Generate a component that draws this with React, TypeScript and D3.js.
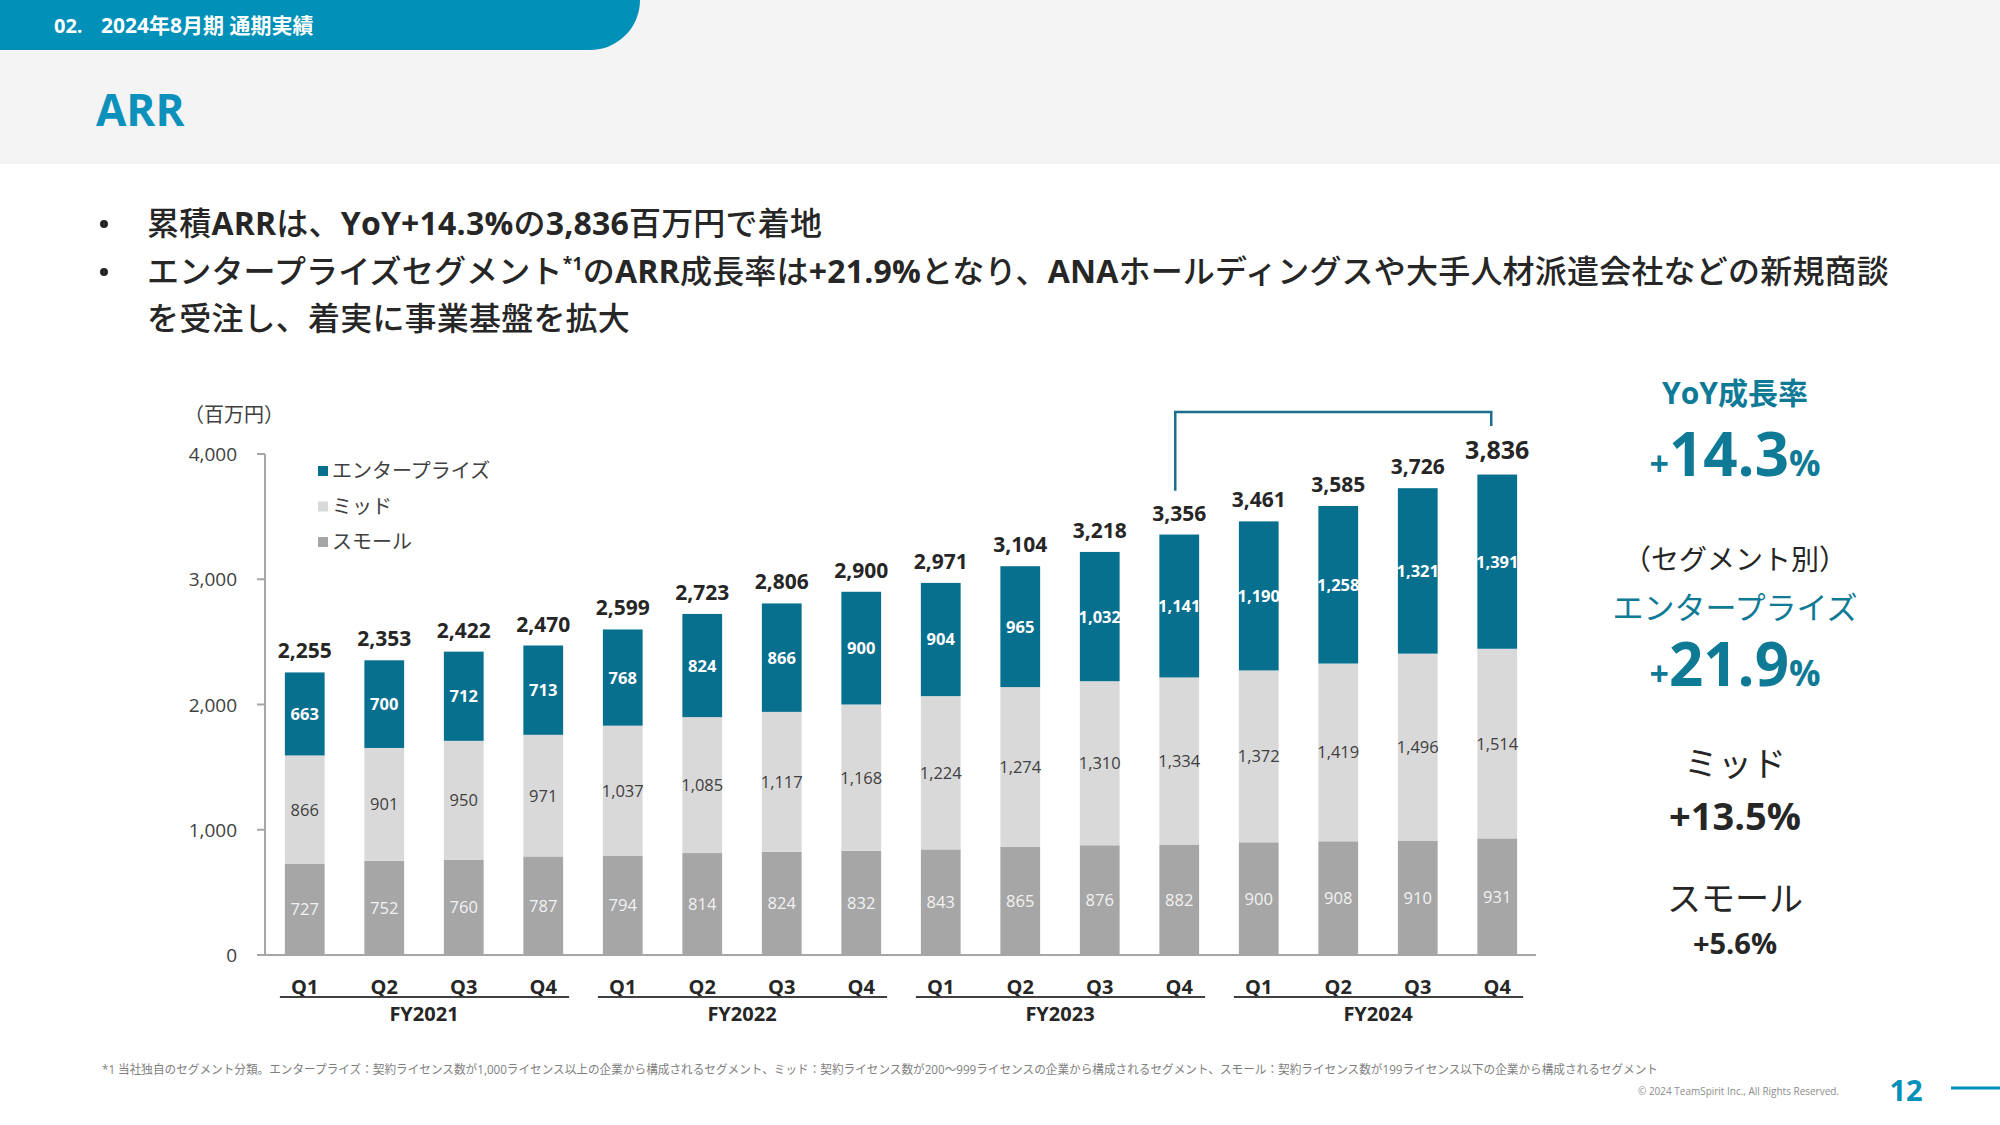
import React from "react";
import * as d3 from "d3";

const quarters = ["Q1","Q2","Q3","Q4","Q1","Q2","Q3","Q4","Q1","Q2","Q3","Q4","Q1","Q2","Q3","Q4"];
const fiscalYears = ["FY2021","FY2022","FY2023","FY2024"];
const smallValues = [727,752,760,787,794,814,824,832,843,865,876,882,900,908,910,931];
const midValues = [866,901,950,971,1037,1085,1117,1168,1224,1274,1310,1334,1372,1419,1496,1514];
const enterpriseValues = [663,700,712,713,768,824,866,900,904,965,1032,1141,1190,1258,1321,1391];
const totalValues = [2255,2353,2422,2470,2599,2723,2806,2900,2971,3104,3218,3356,3461,3585,3726,3836];
const yTicks = [0,1000,2000,3000,4000];
const seriesKeys = ["small","mid","enterprise"];
const legendLabels = ["エンタープライズ","ミッド","スモール"];

const C_ENT = "#07708f";
const C_MID = "#d9d9d9";
const C_SMALL = "#a6a6a6";
const TEAL = "#0090b8";
const PANEL_TEAL = "#0f7a96";
const FONT = "'Open Sans', 'Noto Sans CJK JP', sans-serif";

function MixedText({ x, y, text, size }: { x: number; y: number; text: string; size: number }) {
  const parts = text.split(/(\*1|[A-Za-z0-9+%.,]+)/).filter((p) => p.length > 0);
  return (
    <text x={x} y={y} fontSize={size} fill="#262626" fontFamily={FONT} letterSpacing={0.2}>
      {parts.map((p, i) =>
        p === "*1" ? (
          <tspan key={i} fontSize={size * 0.55} baselineShift={size * 0.42} fontWeight={700}>
            *1
          </tspan>
        ) : (
          <tspan key={i} fontWeight={/^[A-Za-z0-9+%.,]+$/.test(p) ? 700 : 500}>
            {p}
          </tspan>
        )
      )}
    </text>
  );
}

export default function App() {
  const x = d3.scaleBand<number>().domain(d3.range(quarters.length)).range([265, 1537]).paddingInner(0.5).paddingOuter(0.25);
  const y = d3.scaleLinear().domain([0, 4000]).range([955, 454]);
  const rows = quarters.map((q, i) => ({ small: smallValues[i], mid: midValues[i], enterprise: enterpriseValues[i] }));
  const stack = d3.stack<any>().keys(seriesKeys)(rows);
  const colors: Record<string, string> = { small: C_SMALL, mid: C_MID, enterprise: C_ENT };
  const bw = x.bandwidth();
  const cx = (i: number) => (x(i) as number) + bw / 2;

  const legendColors = [C_ENT, C_MID, C_SMALL];
  const bx1 = cx(11) - 4;
  const bx2 = cx(15) - 6;
  const bTop = y(4000) - 42;

  return (
    <svg width={2000} height={1125} style={{ position: "absolute", left: 0, top: 0, background: "#fff" }} fontFamily={FONT}>
      {/* header */}
      <rect x={0} y={0} width={2000} height={164} fill="#f4f4f4" />
      <path d="M0,0 H640 A50,50 0 0 1 590,50 H0 Z" fill={TEAL} />
      <text x={54} y={33} fill="#fff" fontSize={20} fontWeight={700}>02.</text>
      <text x={101} y={33} fill="#fff" fontSize={21} fontWeight={700}>2024年8月期 通期実績</text>
      <text x={96} y={126} fill="#0b91bb" fontSize={44} fontWeight={700}>ARR</text>

      {/* bullets */}
      {[235, 283].map((by, k) => (
        <circle key={k} cx={104} cy={by - 11} r={4} fill="#262626" />
      ))}
      <MixedText x={147} y={235} size={32} text="累積ARRは、YoY+14.3%の3,836百万円で着地" />
      <MixedText x={147} y={283} size={32} text="エンタープライズセグメント*1のARR成長率は+21.9%となり、ANAホールディングスや大手人材派遣会社などの新規商談" />
      <MixedText x={147} y={330} size={32} text="を受注し、着実に事業基盤を拡大" />

      {/* unit */}
      <text x={184} y={422} fontSize={20} fill="#404040">（百万円）</text>

      {/* y axis */}
      <line x1={265} x2={265} y1={y(4000)} y2={y(0)} stroke="#a6a6a6" strokeWidth={2} />
      {yTicks.map((t) => (
        <g key={t}>
          <line x1={257} x2={265} y1={y(t)} y2={y(t)} stroke="#a6a6a6" strokeWidth={2} />
          <text x={237} y={y(t) + 7} textAnchor="end" fontSize={19} fill="#404040">{d3.format(",")(t)}</text>
        </g>
      ))}

      {/* bars */}
      {stack.map((s) =>
        s.map((d, i) => (
          <rect key={s.key + i} x={x(i)} y={y(d[1])} width={bw} height={y(d[0]) - y(d[1])} fill={colors[s.key]} />
        ))
      )}
      <line x1={259} x2={1536} y1={y(0)} y2={y(0)} stroke="#a6a6a6" strokeWidth={2} />

      {/* segment labels */}
      {stack.map((s) =>
        s.map((d, i) => {
          const my = (y(d[0]) + y(d[1])) / 2;
          const isEnt = s.key === "enterprise";
          const fill = isEnt ? "#ffffff" : s.key === "mid" ? "#404040" : "#f2f2f2";
          return (
            <text key={"l" + s.key + i} x={cx(i)} y={my + 6} textAnchor="middle" fontSize={16.5} fontWeight={isEnt ? 700 : 400} fill={fill}>
              {d3.format(",")(s.key === "small" ? smallValues[i] : s.key === "mid" ? midValues[i] : enterpriseValues[i])}
            </text>
          );
        })
      )}

      {/* totals */}
      {totalValues.map((t, i) => {
        const top = y(stack[2][i][1]);
        const last = i === totalValues.length - 1;
        return (
          <text key={"t" + i} x={cx(i)} y={top - (last ? 16 : 14)} textAnchor="middle" fontSize={last ? 25 : 21} fontWeight={700} fill="#262626">
            {d3.format(",")(t)}
          </text>
        );
      })}

      {/* bracket */}
      <path d={`M${bx1},${y(3356) - 44} V${bTop} H${bx2} V${bTop + 14}`} fill="none" stroke="#1a6f8c" strokeWidth={2.5} />

      {/* legend */}
      {legendLabels.map((l, k) => (
        <g key={l}>
          <rect x={318} y={466 + k * 35.5} width={10} height={10} fill={legendColors[k]} />
          <text x={332} y={478 + k * 35.5} fontSize={20} fill="#404040">{l}</text>
        </g>
      ))}

      {/* x labels */}
      {quarters.map((q, i) => (
        <text key={"q" + i} x={cx(i)} y={994} textAnchor="middle" fontSize={20} fontWeight={700} fill="#262626">{q}</text>
      ))}
      {fiscalYears.map((fy, g) => {
        const x0 = x(g * 4) as number;
        const x1 = (x(g * 4 + 3) as number) + bw;
        return (
          <g key={fy}>
            <line x1={x0 - 5} x2={x1 + 6} y1={997} y2={997} stroke="#404040" strokeWidth={2} />
            <text x={(x0 + x1) / 2} y={1021} textAnchor="middle" fontSize={20} fontWeight={700} fill="#262626">{fy}</text>
          </g>
        );
      })}

      {/* right panel */}
      <g textAnchor="middle">
        <text x={1735} y={404} fontSize={30} fontWeight={700} fill={PANEL_TEAL}>YoY成長率</text>
        <text x={1735} y={476} fontWeight={700} fill={PANEL_TEAL}>
          <tspan fontSize={34}>+</tspan>
          <tspan fontSize={60}>14.3</tspan>
          <tspan fontSize={35}>%</tspan>
        </text>
        <text x={1735} y={570} fontSize={28} fill="#262626">（セグメント別）</text>
        <text x={1735} y={619} fontSize={31} fill={PANEL_TEAL}>エンタープライズ</text>
        <text x={1735} y={686} fontWeight={700} fill={PANEL_TEAL}>
          <tspan fontSize={34}>+</tspan>
          <tspan fontSize={60}>21.9</tspan>
          <tspan fontSize={35}>%</tspan>
        </text>
        <text x={1735} y={776} fontSize={34} fill="#262626">ミッド</text>
        <text x={1735} y={830} fontSize={38} fontWeight={700} fill="#262626">+13.5%</text>
        <text x={1735} y={911} fontSize={34} fill="#262626">スモール</text>
        <text x={1735} y={954} fontSize={29} fontWeight={700} fill="#262626">+5.6%</text>
      </g>

      {/* footer */}
      <text x={102} y={1074} fontSize={12} fill="#7f7f7f" textLength={1556} lengthAdjust="spacingAndGlyphs">
        *1 当社独自のセグメント分類。エンタープライズ：契約ライセンス数が1,000ライセンス以上の企業から構成されるセグメント、ミッド：契約ライセンス数が200～999ライセンスの企業から構成されるセグメント、スモール：契約ライセンス数が199ライセンス以下の企業から構成されるセグメント
      </text>
      <text x={1638} y={1095} fontSize={10} fill="#8c8c8c" textLength={201} lengthAdjust="spacingAndGlyphs">© 2024 TeamSpirit Inc., All Rights Reserved.</text>
      <text x={1906} y={1101} fontSize={29} fontWeight={700} fill={TEAL} textAnchor="middle">12</text>
      <line x1={1951} x2={2000} y1={1088} y2={1088} stroke={TEAL} strokeWidth={3} />
    </svg>
  );
}
